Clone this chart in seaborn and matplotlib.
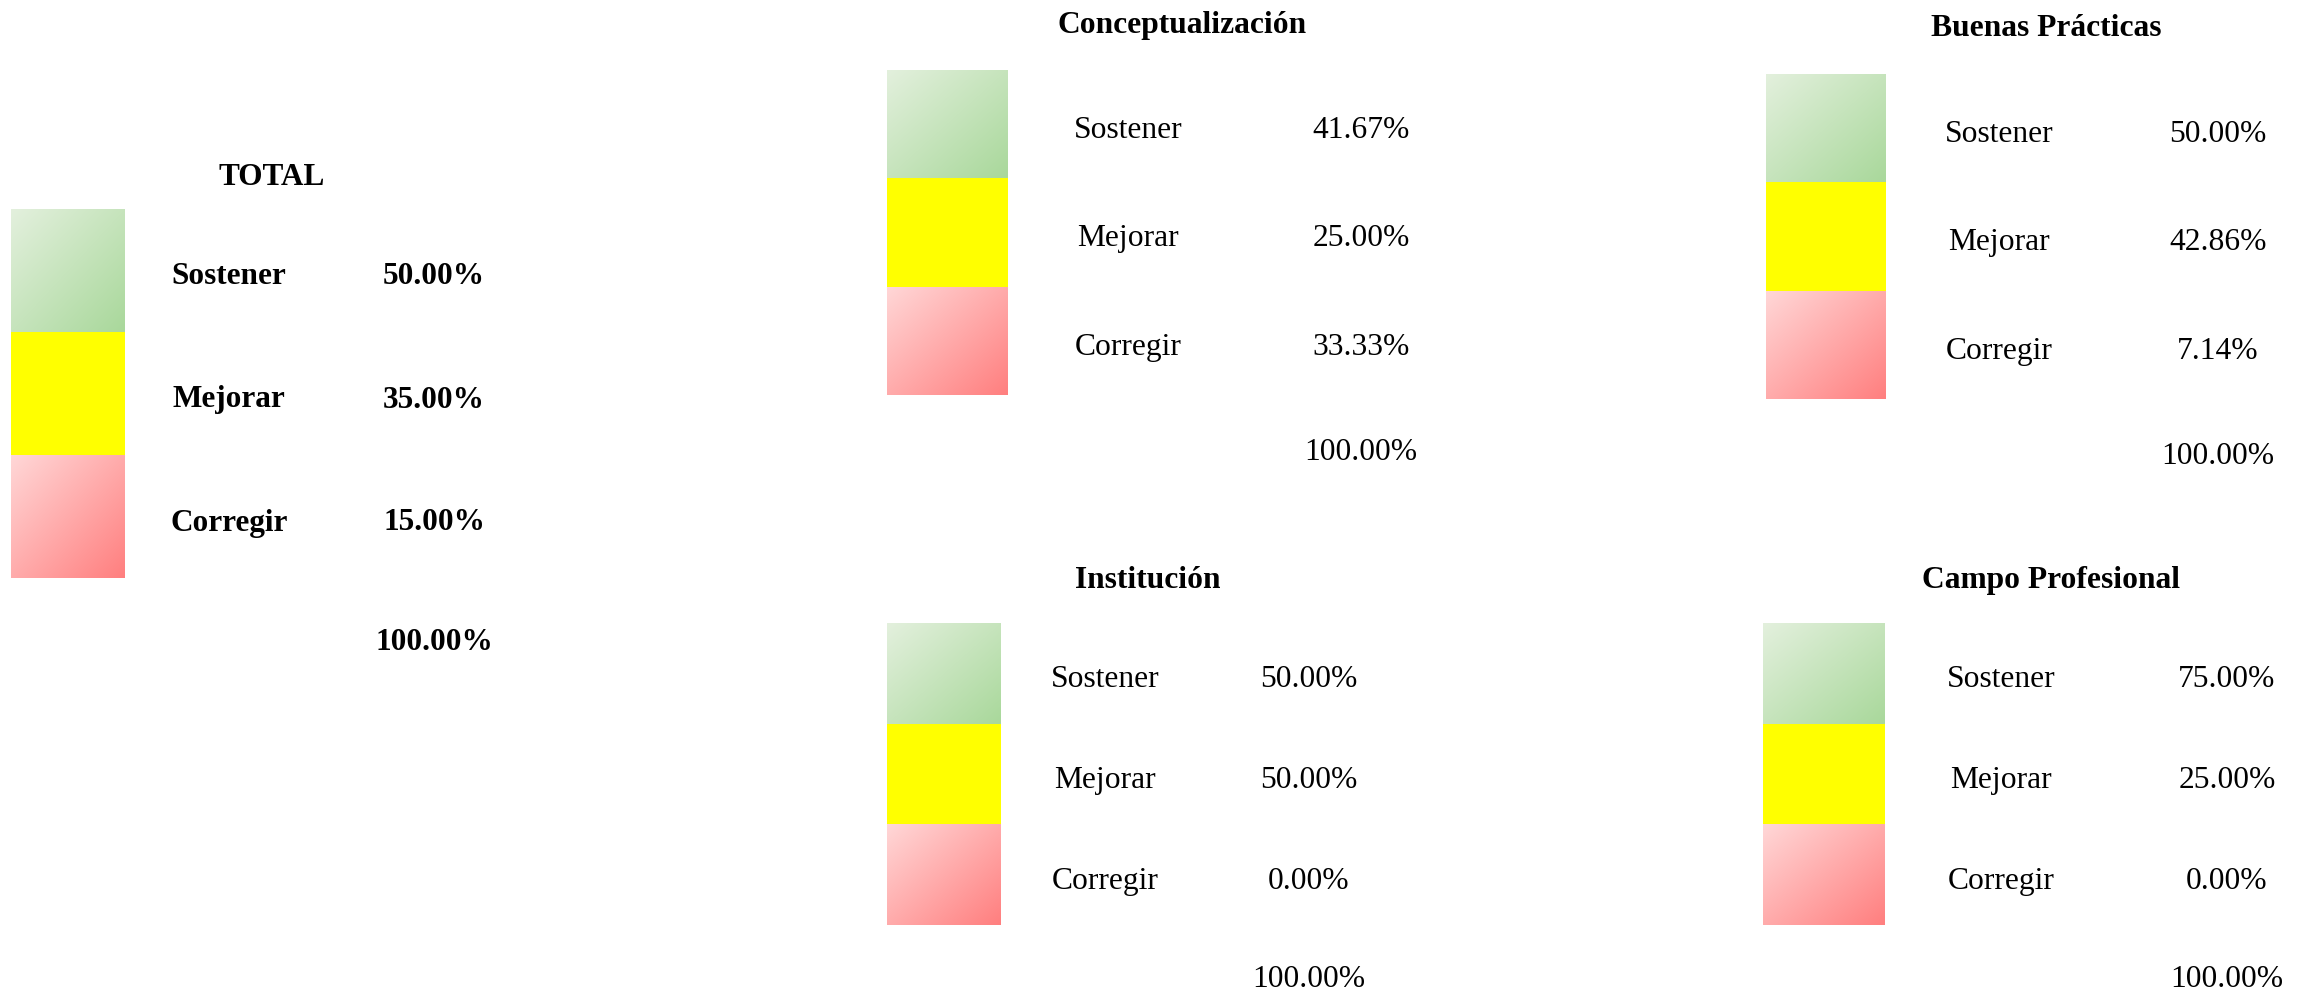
import numpy as np
import pandas as pd
import matplotlib
matplotlib.use("Agg")
import matplotlib.pyplot as plt
import seaborn as sns
from matplotlib.colors import to_rgb

sns.set_theme(style="white")
plt.rcParams["font.family"] = ["Liberation Serif", "DejaVu Serif"]

# ---------------------------------------------------------
# Data
# ---------------------------------------------------------
levels = ["Sostener", "Mejorar", "Corregir"]
titles = ["TOTAL", "Conceptualización", "Buenas Prácticas", "Institución", "Campo Profesional"]

total_pct = [50.00, 35.00, 15.00]
conceptualizacion_pct = [41.67, 25.00, 33.33]
buenas_practicas_pct = [50.00, 42.86, 7.14]
institucion_pct = [50.00, 50.00, 0.00]
campo_profesional_pct = [75.00, 25.00, 0.00]

panel_values = [total_pct, conceptualizacion_pct, buenas_practicas_pct,
                institucion_pct, campo_profesional_pct]

# gradient colours per level (top-left -> bottom-right)
level_colors = [("#e3f0dd", "#a9d89b"), ("#ffff00", "#ffff00"), ("#ffd7d7", "#ff7f7f")]

# ---------------------------------------------------------
# Layout (pixels)
# box_left, box_w, top, row_h, label_x, pct_x, title_x, title_base, total_base, size, bold
# ---------------------------------------------------------
W, H = 2305, 992
layout = [
    (11, 113, 209, 123.0, 229, 434, 272, -24, 72, 22.5, True),
    (887, 120, 70, 108.3, 1128, 1361, 1182, -37, 65, 22.7, False),
    (1766, 120, 74, 108.3, 1999, 2218, 2046, -38, 65, 22.7, False),
    (887, 114, 623, 100.7, 1105, 1309, 1148, -35, 62, 22.7, False),
    (1763, 121, 623, 100.7, 2001, 2227, 2051, -35, 62, 22.7, False),
]


def gradient_image(c0, c1, n=64):
    u = np.linspace(0, 1, n)
    t = (u[None, :] + u[:, None]) / 2
    a, b = np.array(to_rgb(c0)), np.array(to_rgb(c1))
    return a[None, None, :] * (1 - t[..., None]) + b[None, None, :] * t[..., None]


def draw_panel(fig, title, values, lay):
    box_left, box_w, top, row_h, label_x, pct_x, title_x, title_base, total_base, size, bold = lay
    weight = "bold" if bold else "normal"
    ax = fig.add_axes([box_left / W, 1 - (top + 3 * row_h) / H, box_w / W, 3 * row_h / H])

    df = pd.DataFrame({"level": levels, "box": [1.0] * len(levels)})
    sns.barplot(data=df, x="box", y="level", orient="h", width=1.0,
                color="white", linewidth=0, ax=ax)

    for patch, (c0, c1) in zip(ax.patches, level_colors):
        x0, y0 = patch.get_x(), patch.get_y()
        w, h = patch.get_width(), patch.get_height()
        im = ax.imshow(gradient_image(c0, c1), extent=(x0, x0 + w, y0 + h, y0),
                       origin="upper", aspect="auto", interpolation="bilinear", zorder=3)
        im.set_clip_path(patch)

    ax.set_xlim(0, 1)
    ax.set_ylim(2.5, -0.5)
    ax.set_axis_off()

    lx = (label_x - box_left) / box_w
    px = (pct_x - box_left) / box_w
    tx = (title_x - box_left) / box_w
    base = 14 / row_h

    for i, (lev, v) in enumerate(zip(levels, values)):
        ax.text(lx, i + base, lev, ha="center", va="baseline", fontsize=size,
                fontweight=weight, color="black", clip_on=False)
        ax.text(px, i + base, f"{v:.2f}%", ha="center", va="baseline", fontsize=size,
                fontweight=weight, color="black", clip_on=False)

    ax.text(tx, -0.5 + title_base / row_h, title, ha="center", va="baseline",
            fontsize=size, fontweight="bold", color="black", clip_on=False)
    ax.text(px, 2.5 + total_base / row_h, f"{sum(values):.2f}%", ha="center",
            va="baseline", fontsize=size, fontweight=weight, color="black", clip_on=False)


fig = plt.figure(figsize=(W / 100, H / 100), dpi=100)
fig.patch.set_facecolor("white")

for title, values, lay in zip(titles, panel_values, layout):
    draw_panel(fig, title, values, lay)

fig.savefig("out.png", dpi=100, facecolor="white")
